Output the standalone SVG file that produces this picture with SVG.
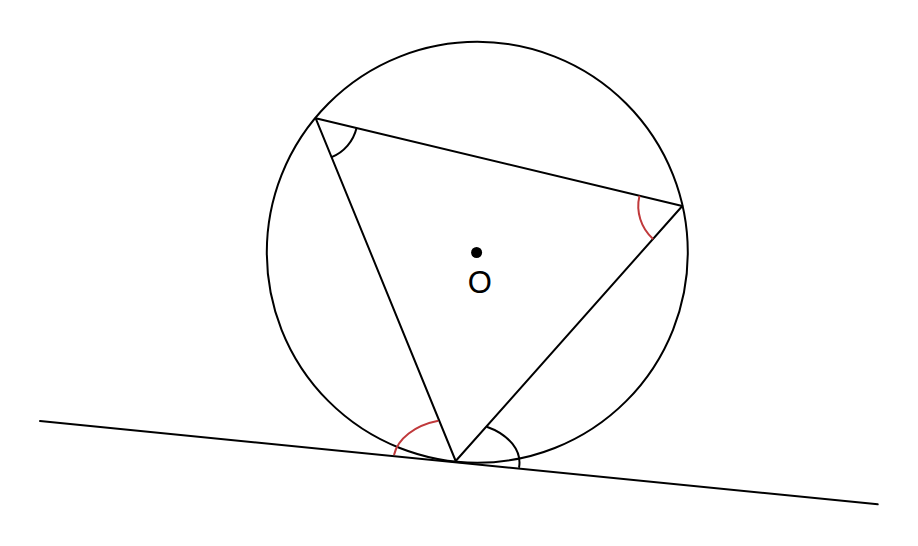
<svg xmlns="http://www.w3.org/2000/svg" width="918" height="546" viewBox="0 0 918 546">
<style>
.ln{fill:none;stroke:#000;stroke-width:2;stroke-linecap:round;stroke-linejoin:round}
.red{fill:none;stroke:#c0393b;stroke-width:2}
.blk{fill:none;stroke:#000;stroke-width:2}
.lbl{font-family:"Liberation Sans",Arial,sans-serif;font-size:31px;fill:#000}
</style>
<rect width="918" height="546" fill="#fff"/>
<g id="circle">
<circle cx="477.3" cy="252.3" r="210.5" class="ln"/>
</g>
<g id="center">
<circle cx="476.6" cy="252.5" r="5.5" fill="#000"/>
<text x="479.8" y="292.6" text-anchor="middle" class="lbl">O</text>
</g>
<g id="connectors">
<line x1="40" y1="421" x2="877.7" y2="504.3" class="ln"/>
<polygon points="315.7,118.3 682.3,206 455.7,461" class="ln"/>
</g>
<g id="angles">
<path d="M356.55,128.07 A42,42 0 0 1 331.58,157.18" class="blk"/>
<path d="M639.5,195.76 A44,44 0 0 0 653.07,238.89" class="red"/>
<path d="M394,455 A62,42 0 0 1 438.3,420.7" class="red"/>
<path d="M486.7,426.7 A63,41 0 0 1 519,467.7" class="blk"/>
</g>
</svg>
